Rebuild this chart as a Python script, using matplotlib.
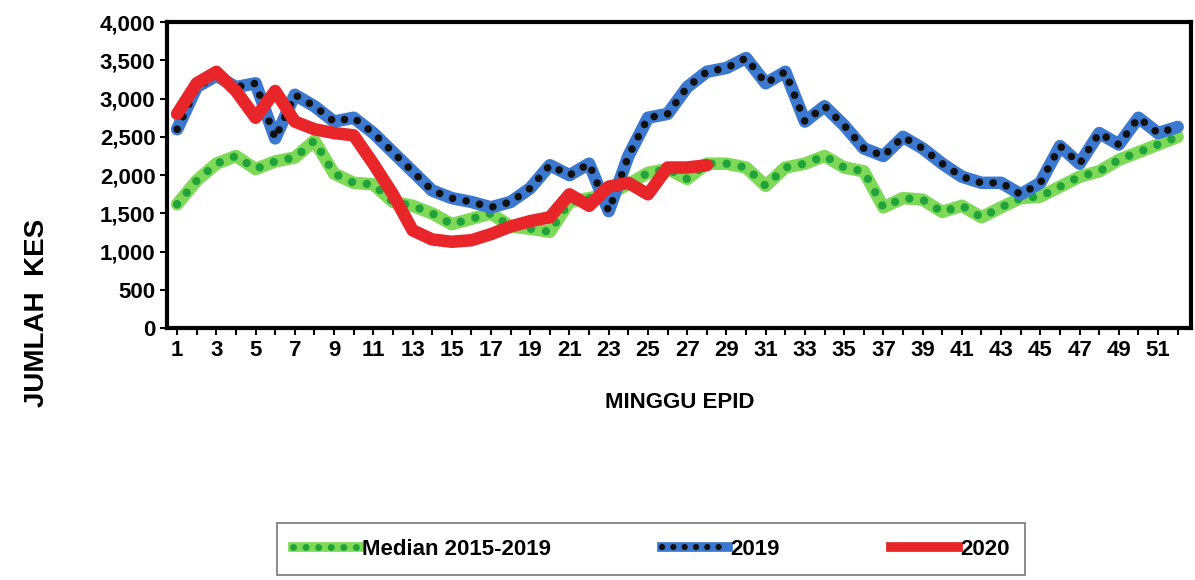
import matplotlib.pyplot as plt
from matplotlib.lines import Line2D

plt.rcParams['font.family'] = ['Liberation Sans', 'DejaVu Sans']
plt.rcParams['font.weight'] = 'bold'

weeks = list(range(1, 53))
median = [1620, 1930, 2150, 2250, 2080, 2180, 2230, 2450, 2020, 1900, 1880, 1650, 1600,
          1500, 1360, 1430, 1500, 1330, 1300, 1260, 1650, 1700, 1750, 1880, 2030, 2080,
          1950, 2150, 2150, 2100, 1860, 2100, 2150, 2250, 2100, 2050, 1580, 1700, 1680,
          1520, 1600, 1450, 1580, 1700, 1720, 1850, 1980, 2050, 2200, 2300, 2400, 2500]
y2019 = [2600, 3150, 3300, 3150, 3200, 2480, 3050, 2900, 2700, 2750, 2550, 2300, 2050,
         1800, 1700, 1650, 1580, 1650, 1830, 2130, 2000, 2150, 1530, 2250, 2750, 2800,
         3150, 3350, 3400, 3530, 3200, 3350, 2700, 2900, 2650, 2350, 2250, 2500, 2350,
         2150, 1980, 1900, 1900, 1750, 1900, 2380, 2150, 2550, 2400, 2750, 2550, 2630]
y2020 = [2800, 3200, 3350, 3100, 2750, 3100, 2700, 2600, 2550, 2520, 2150, 1750, 1280,
         1160, 1130, 1150, 1230, 1330, 1400, 1450, 1750, 1600, 1850, 1900, 1750, 2100,
         2100, 2130]

fig = plt.figure(figsize=(11.95, 5.8), dpi=100)
ax = fig.add_axes([0.14, 0.434, 0.857, 0.528])

dots = (0, (0.01, 1.8))
ax.plot(weeks, median, color='#7ed957', lw=9, solid_capstyle='round')
ax.plot(weeks, median, color='#1fa33a', lw=6, ls=dots, dash_capstyle='round')
ax.plot(weeks, y2019, color='#3b78d0', lw=9, solid_capstyle='round')
ax.plot(weeks, y2019, color='#111111', lw=5.5, ls=dots, dash_capstyle='round')
ax.plot(weeks[:len(y2020)], y2020, color='#e8262a', lw=9, solid_capstyle='round')

ax.set_xlim(0.5, 52.7)
ax.set_ylim(0, 4000)
ax.set_xticks(weeks)
ax.set_xticklabels([str(w) if w % 2 else '' for w in weeks], fontsize=16, fontweight='bold')
ax.set_yticks(range(0, 4001, 500))
ax.set_yticklabels([f'{v:,}' for v in range(0, 4001, 500)], fontsize=16, fontweight='bold')
ax.tick_params(length=5, width=1.5)
for s in ax.spines.values():
    s.set_linewidth(3)
ax.set_xlabel('MINGGU EPID', fontsize=16, fontweight='bold', labelpad=22)
ax.set_ylabel('JUMLAH  KES', fontsize=20, fontweight='bold')
ax.yaxis.set_label_coords(-0.115, 0.05)

h_med = (Line2D([], [], color='#7ed957', lw=7), Line2D([], [], color='#1fa33a', lw=5, ls=dots, dash_capstyle='round'))
h19 = (Line2D([], [], color='#3b78d0', lw=7), Line2D([], [], color='#111111', lw=4.5, ls=dots, dash_capstyle='round'))
h20 = Line2D([], [], color='#e8262a', lw=7)
leg = fig.legend([h_med, h19, h20], ['Median 2015-2019', '2019', '2020'], ncol=3,
                 loc='center', bbox_to_anchor=(0.545, 0.053), fancybox=False, edgecolor='#555555',
                 prop={'size': 16, 'weight': 'bold'}, handlelength=3, handletextpad=0.1,
                 columnspacing=5, borderpad=0.7, borderaxespad=0)
leg.get_frame().set_linewidth(1.2)

fig.savefig('out.png')
